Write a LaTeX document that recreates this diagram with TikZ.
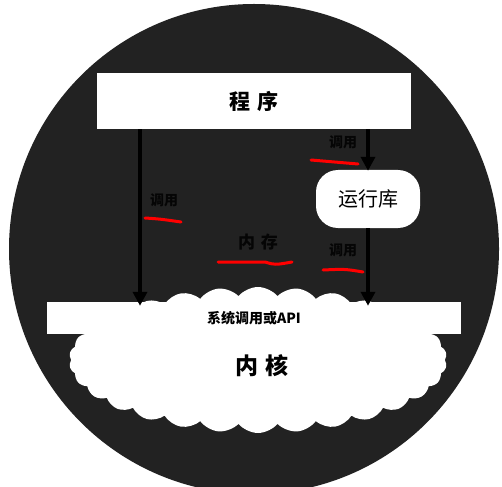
\documentclass[tikz,border=0pt]{standalone}
\usepackage{fontspec}
\setmainfont{Noto Sans CJK SC}
\usetikzlibrary{arrows.meta, shapes.symbols}
\definecolor{bgdark}{HTML}{222222}
\definecolor{labeldark}{HTML}{050505}

\begin{document}
\begin{tikzpicture}[x=1pt, y=-1pt, >={Triangle[length=14pt, width=14pt]},
    whitebox/.style={fill=white, draw=none, inner sep=0pt},
    callarrow/.style={->, line width=4.5pt, black},
    hidden/.style={font=\bfseries\fontsize{14}{14}\selectfont, text=labeldark},
    redmark/.style={red, line width=3pt, line cap=round}]

      \useasboundingbox (0, 0) rectangle (502, 486);
      \fill[white] (0, 0) rectangle (502, 486);
      \fill[bgdark] (254, 249) circle (245);

      % kernel cloud, under the API bar
      \node[cloud, cloud puffs=30, cloud puff arc=100, aspect=2.6, fill=white,
            minimum width=378pt, minimum height=146pt, inner sep=0pt]
            (kernel) at (258, 360) {};
      \node[font=\bfseries\fontsize{23}{23}\selectfont] (kerneltext) at (262, 366) {内\,\,核};

      \node[whitebox, minimum width=314pt, minimum height=56pt] (prog) at (254, 101)
            {\bfseries\fontsize{21}{21}\selectfont 程\,\,序};
      \node[whitebox, minimum width=414pt, minimum height=32pt] (api) at (254, 318)
            {\bfseries\fontsize{14}{14}\selectfont 系统调用或API};
      \node[whitebox, rounded corners=22pt, minimum width=104pt, minimum height=58pt]
            (lib) at (368, 199) {\fontsize{20}{20}\selectfont 运行库};

      \draw[callarrow] (prog.south -| 140, 0) -- ([yshift=-4pt]api.north -| 140, 0);
      \draw[callarrow] (prog.south -| lib) -- ([yshift=-1pt]lib.north);
      \draw[callarrow] (lib.south) -- ([yshift=-4pt]api.north -| lib);

      % labels, black on the dark ground
      \node[hidden] (calla) at (164, 200) {\color{labeldark}调用};
      \node[hidden] (callb) at (343, 142) {\color{labeldark}调用};
      \node[hidden] (callc) at (343, 250) {\color{labeldark}调用};
      \node[hidden, font=\bfseries\fontsize{17}{17}\selectfont] (memory) at (258, 242)
            {\color{labeldark}内\,\,存};

      % red strokes under the labels
      \draw[redmark] (145, 218) .. controls (160, 219) .. (181, 222);
      \draw[redmark] (311, 160) .. controls (335, 162) .. (358, 164);
      \draw[redmark] (323, 270) .. controls (345, 269) .. (363, 272);
      \draw[redmark] (218, 262) -- (265, 262) .. controls (275, 265) .. (292, 262);
    \end{tikzpicture}
\end{document}
